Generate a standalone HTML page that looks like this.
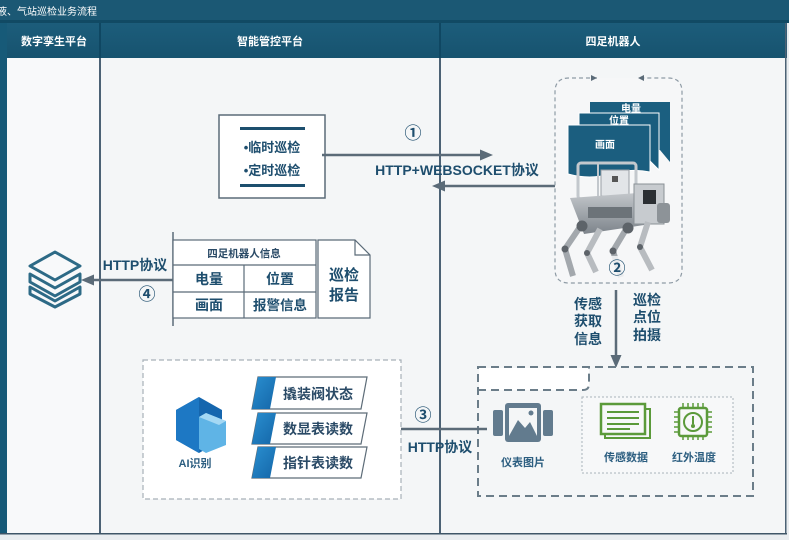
<!DOCTYPE html>
<html><head><meta charset="utf-8"><style>
html,body{margin:0;padding:0;background:#e9edf0;}
svg{display:block;}
text{font-family:"Liberation Sans","Noto Sans CJK SC",sans-serif;}
</style></head><body>
<svg width="789" height="540" viewBox="0 0 789 540" xmlns="http://www.w3.org/2000/svg">
<defs>
<linearGradient id="hdr" x1="0" y1="0" x2="0" y2="1"><stop offset="0" stop-color="#1c5d7b"/><stop offset="1" stop-color="#17536f"/></linearGradient>
<linearGradient id="blu" x1="0" y1="0" x2="1" y2="1"><stop offset="0" stop-color="#2a8fd0"/><stop offset="1" stop-color="#1466a8"/></linearGradient>
<linearGradient id="body" x1="0" y1="0" x2="0" y2="1"><stop offset="0" stop-color="#c4c8cc"/><stop offset="1" stop-color="#7d848b"/></linearGradient>
</defs>
<!-- base -->
<rect x="0" y="0" width="789" height="540" fill="#e9edf0"/>
<rect x="0" y="0" width="789" height="22" fill="#1b5874"/>
<rect x="0" y="20" width="789" height="3" fill="#114a64"/>
<text x="-3" y="15" font-size="10" fill="#ffffff">液、气站巡检业务流程</text>
<!-- header -->
<rect x="0" y="23" width="787" height="35" fill="url(#hdr)"/>
<rect x="0" y="23" width="7" height="511" fill="#175a78"/>
<rect x="99" y="23" width="2" height="35" fill="#0f4762"/>
<rect x="439" y="23" width="2" height="35" fill="#0f4762"/>
<text x="54" y="45" font-size="11" font-weight="bold" fill="#ffffff" text-anchor="middle">数字孪生平台</text>
<text x="270" y="45" font-size="11" font-weight="bold" fill="#ffffff" text-anchor="middle">智能管控平台</text>
<text x="613" y="45" font-size="11" font-weight="bold" fill="#ffffff" text-anchor="middle">四足机器人</text>
<!-- body -->
<rect x="7" y="58" width="779" height="476" fill="#f4f6f7"/>
<rect x="7" y="58" width="93" height="476" fill="#f8f9fa"/>
<rect x="99" y="58" width="2" height="476" fill="#4c6275"/>
<rect x="439" y="58" width="2" height="476" fill="#4c6275"/>
<rect x="785" y="23" width="1.5" height="511" fill="#4c6275"/>
<rect x="0" y="533" width="787" height="1.5" fill="#3f5668"/>

<!-- top middle box -->
<rect x="219" y="115" width="106" height="83" fill="#ffffff" stroke="#5b6b78" stroke-width="1.5"/>
<rect x="240" y="127" width="65" height="3" fill="#1d4f6e"/>
<rect x="240" y="184" width="65" height="3" fill="#1d4f6e"/>
<text x="272" y="152" font-size="13" font-weight="bold" fill="#1e4e6e" text-anchor="middle">•临时巡检</text>
<text x="272" y="175" font-size="13" font-weight="bold" fill="#1e4e6e" text-anchor="middle">•定时巡检</text>

<!-- arrow 1 -->
<line x1="322" y1="155" x2="484" y2="155" stroke="#5b6b78" stroke-width="2.5"/>
<polygon points="493,155 480,149.5 480,160.5" fill="#5b6b78"/>
<text x="413" y="139" font-size="17" font-weight="bold" fill="#1e4e6e" text-anchor="middle">①</text>
<text x="457" y="175" font-size="14" font-weight="bold" fill="#1e4e6e" text-anchor="middle">HTTP+WEBSOCKET协议</text>
<!-- return arrow -->
<line x1="556" y1="175" x2="556" y2="186" stroke="#5b6b78" stroke-width="2"/>
<line x1="556" y1="186" x2="441" y2="186" stroke="#5b6b78" stroke-width="2.5"/>
<polygon points="432,186 445,180.5 445,191.5" fill="#5b6b78"/>

<!-- robot dashed box -->
<path d="M597,78 L569,78 Q555,78 555,92 L555,269 Q555,283 569,283 L668,283 Q682,283 682,269 L682,92 Q682,78 668,78 L638,78" fill="#f6f7f8" stroke="#8e9ba5" stroke-width="1.2" stroke-dasharray="4 3"/>
<polygon points="597,78 591,75 591,81" fill="#5b6b78"/>
<polygon points="638,78 644,75 644,81" fill="#5b6b78"/>
<!-- stacked cards -->
<path d="M590,102 L670,102 L670,162 L660,150 L590,150 Z" fill="#1b5f80"/>
<path d="M579,113 L659,113 L659,170 L649,160 L579,160 Z" fill="#1a5d7e" stroke="#ffffff" stroke-width="1"/>
<path d="M568,125 L650,125 L650,172 Q630,168 610,174 Q590,180 568,174 Z" fill="#1b5e7f" stroke="#ffffff" stroke-width="1"/>
<text x="631" y="112" font-size="10" font-weight="bold" fill="#ffffff" text-anchor="middle">电量</text>
<text x="619" y="124" font-size="10" font-weight="bold" fill="#ffffff" text-anchor="middle">位置</text>
<text x="605" y="148" font-size="10" font-weight="bold" fill="#ffffff" text-anchor="middle">画面</text>
<!-- robot dog -->
<g>
<rect x="578" y="163" width="58" height="36" rx="3" fill="none" stroke="#c3c8cd" stroke-width="3"/>
<line x1="598" y1="163" x2="598" y2="199" stroke="#c3c8cd" stroke-width="2"/>
<rect x="601" y="170" width="28" height="26" fill="#e2e5e8" stroke="#9aa0a6"/>
<rect x="612" y="176" width="6" height="6" fill="#555"/>
<polygon points="570,198 652,192 664,222 584,234" fill="url(#body)"/>
<rect x="634" y="184" width="30" height="40" fill="#c7cbcf" stroke="#8a9096"/>
<rect x="643" y="190" width="13" height="14" fill="#2b2f33"/>
<rect x="657" y="203" width="13" height="20" rx="3" fill="#8d9398"/>
<rect x="588" y="207" width="44" height="11" fill="#6c7379"/>
<polyline points="582,224 565,249 573,276" fill="none" stroke="#a3a8ad" stroke-width="6" stroke-linejoin="round"/>
<polyline points="600,229 587,253 596,272" fill="none" stroke="#b8bcc0" stroke-width="6" stroke-linejoin="round"/>
<polyline points="628,226 613,251 621,277" fill="none" stroke="#a3a8ad" stroke-width="6" stroke-linejoin="round"/>
<polyline points="648,222 640,247 652,270" fill="none" stroke="#b8bcc0" stroke-width="6" stroke-linejoin="round"/>
<circle cx="582" cy="226" r="5.5" fill="#5d6369"/>
<circle cx="628" cy="228" r="5.5" fill="#5d6369"/>
<circle cx="565" cy="249" r="3.5" fill="#5d6369"/>
<circle cx="613" cy="251" r="3.5" fill="#5d6369"/>
<circle cx="587" cy="253" r="3" fill="#5d6369"/>
<circle cx="640" cy="247" r="3" fill="#5d6369"/>
</g>
<rect x="607" y="256" width="22" height="22" fill="#f6f7f8" opacity="0.85"/>
<text x="617" y="274" font-size="17" font-weight="bold" fill="#1e4e6e" text-anchor="middle">②</text>

<!-- arrow 2 down -->
<line x1="616" y1="290" x2="616" y2="359" stroke="#5b6b78" stroke-width="2.5"/>
<polygon points="616,368 610.5,355 621.5,355" fill="#5b6b78"/>
<text font-size="14" font-weight="bold" fill="#1e4e6e" text-anchor="middle"><tspan x="588" y="309">传感</tspan><tspan x="588" y="326">获取</tspan><tspan x="588" y="344">信息</tspan></text>
<text font-size="14" font-weight="bold" fill="#1e4e6e" text-anchor="middle"><tspan x="647" y="305">巡检</tspan><tspan x="647" y="322">点位</tspan><tspan x="647" y="340">拍摄</tspan></text>

<!-- bottom right dashed box -->
<rect x="478" y="367" width="275" height="129" fill="#f4f6f7" stroke="#6b7d89" stroke-width="2" stroke-dasharray="8 5"/>
<path d="M479,368 L589,368 L589,384 Q589,390 583,390 L479,390 Z" fill="#ffffff"/>
<path d="M478,390 L583,390 Q589,390 589,384 L589,367" fill="none" stroke="#6b7d89" stroke-width="2" stroke-dasharray="8 5"/>
<rect x="582" y="397" width="151" height="76" fill="#f7f8f9" stroke="#a9b3ba" stroke-width="1" stroke-dasharray="2 2"/>
<!-- picture icon -->
<rect x="493" y="410" width="10" height="26" rx="2" fill="#627b8e"/>
<rect x="543" y="410" width="10" height="26" rx="2" fill="#627b8e"/>
<rect x="505" y="403" width="36" height="39" rx="3" fill="#627b8e"/>
<rect x="509" y="408" width="28" height="28" fill="#f4f6f7"/>
<polygon points="509,436 518,420 525,428 530,422 537,436" fill="#627b8e"/>
<circle cx="531" cy="413" r="2.5" fill="#627b8e"/>
<text x="523" y="466" font-size="11" font-weight="bold" fill="#2c5e80" text-anchor="middle">仪表图片</text>
<!-- doc icon green -->
<rect x="605" y="409" width="45" height="29" fill="none" stroke="#5b9a3a" stroke-width="2"/>
<rect x="601" y="404" width="44" height="30" fill="#f7f8f9" stroke="#5b9a3a" stroke-width="2.5"/>
<line x1="607" y1="412" x2="639" y2="412" stroke="#5b9a3a" stroke-width="2"/>
<line x1="607" y1="418" x2="639" y2="418" stroke="#5b9a3a" stroke-width="2"/>
<line x1="607" y1="424" x2="639" y2="424" stroke="#5b9a3a" stroke-width="2"/>
<line x1="607" y1="429" x2="630" y2="429" stroke="#5b9a3a" stroke-width="2"/>
<text x="626" y="461" font-size="11" font-weight="bold" fill="#2c5e80" text-anchor="middle">传感数据</text>
<!-- chip icon -->
<g stroke="#5b9a3a" stroke-width="1.5">
<line x1="683" y1="403" x2="683" y2="440"/><line x1="688" y1="403" x2="688" y2="440"/><line x1="693" y1="403" x2="693" y2="440"/><line x1="698" y1="403" x2="698" y2="440"/><line x1="703" y1="403" x2="703" y2="440"/>
<line x1="674" y1="412" x2="712" y2="412"/><line x1="674" y1="417" x2="712" y2="417"/><line x1="674" y1="422" x2="712" y2="422"/><line x1="674" y1="427" x2="712" y2="427"/><line x1="674" y1="432" x2="712" y2="432"/>
</g>
<rect x="679" y="408" width="28" height="28" rx="2" fill="#f7f8f9" stroke="#5b9a3a" stroke-width="2.5"/>
<circle cx="693" cy="422" r="9" fill="none" stroke="#5b9a3a" stroke-width="2"/>
<line x1="693" y1="416" x2="693" y2="424" stroke="#5b9a3a" stroke-width="2"/>
<circle cx="693" cy="426" r="2" fill="#5b9a3a"/>
<text x="694" y="461" font-size="11" font-weight="bold" fill="#2c5e80" text-anchor="middle">红外温度</text>

<!-- arrow 3 -->
<line x1="487" y1="429" x2="396" y2="429" stroke="#5b6b78" stroke-width="2.5"/>
<polygon points="387,429 400,423.5 400,434.5" fill="#5b6b78"/>
<text x="423" y="421" font-size="17" font-weight="bold" fill="#1e4e6e" text-anchor="middle">③</text>
<text x="440" y="452" font-size="14" font-weight="bold" fill="#1e4e6e" text-anchor="middle">HTTP协议</text>

<!-- AI box -->
<rect x="143" y="360" width="258" height="139" fill="#ffffff" stroke="#a7b1b8" stroke-width="1.2" stroke-dasharray="5 3"/>
<polygon points="199,397 222,410 222,440 199,453 176,440 176,410" fill="#1566ae"/>
<polygon points="199,397 176,410 176,440 199,453" fill="#1d78c4"/>
<polygon points="206,413 226,421 226,445 206,453 199,449 199,417" fill="#5fb4e6"/>
<polygon points="199,417 206,413 226,421 219,425" fill="#a4d8f4"/>
<text x="195" y="467" font-size="11" font-weight="bold" fill="#2c5e80" text-anchor="middle">AI识别</text>
<g>
<polygon points="258,377 367,377 361,409 252,409" fill="#ffffff" stroke="#5d6c78" stroke-width="1.2"/>
<polygon points="258,377 276,377 270,409 252,409" fill="url(#blu)"/>
<text x="318" y="399" font-size="14" font-weight="bold" fill="#2a4a66" text-anchor="middle">撬装阀状态</text>
<polygon points="258,413 367,413 361,444 252,444" fill="#ffffff" stroke="#5d6c78" stroke-width="1.2"/>
<polygon points="258,413 276,413 270,444 252,444" fill="url(#blu)"/>
<text x="318" y="434" font-size="14" font-weight="bold" fill="#2a4a66" text-anchor="middle">数显表读数</text>
<polygon points="258,447 367,447 361,478 252,478" fill="#ffffff" stroke="#5d6c78" stroke-width="1.2"/>
<polygon points="258,447 276,447 270,478 252,478" fill="url(#blu)"/>
<text x="318" y="468" font-size="14" font-weight="bold" fill="#2a4a66" text-anchor="middle">指针表读数</text>
</g>

<!-- info table -->
<line x1="173" y1="232" x2="173" y2="326" stroke="#5b6b78" stroke-width="1.5"/>
<rect x="173" y="240" width="143" height="78" fill="#ffffff" stroke="#5b6b78" stroke-width="1.2"/>
<line x1="173" y1="265" x2="316" y2="265" stroke="#5b6b78" stroke-width="1.2"/>
<line x1="173" y1="292" x2="316" y2="292" stroke="#5b6b78" stroke-width="1.2"/>
<line x1="244" y1="265" x2="244" y2="318" stroke="#5b6b78" stroke-width="1.2"/>
<text x="244" y="257" font-size="10.5" font-weight="bold" fill="#2a4a66" text-anchor="middle">四足机器人信息</text>
<text x="209" y="284" font-size="14" font-weight="bold" fill="#1e4e6e" text-anchor="middle">电量</text>
<text x="280" y="284" font-size="14" font-weight="bold" fill="#1e4e6e" text-anchor="middle">位置</text>
<text x="209" y="310" font-size="14" font-weight="bold" fill="#1e4e6e" text-anchor="middle">画面</text>
<text x="280" y="310" font-size="13.5" font-weight="bold" fill="#1e4e6e" text-anchor="middle">报警信息</text>
<!-- report doc -->
<path d="M318,240 L355,240 L370,255 L370,318 L318,318 Z" fill="#ffffff" stroke="#5b6b78" stroke-width="1.2"/>
<path d="M355,240 L355,255 L370,255" fill="none" stroke="#5b6b78" stroke-width="1.2"/>
<text font-size="15" font-weight="bold" fill="#1e4e6e" text-anchor="middle"><tspan x="344" y="280">巡检</tspan><tspan x="344" y="300">报告</tspan></text>

<!-- arrow 4 -->
<line x1="173" y1="280" x2="90" y2="280" stroke="#5b6b78" stroke-width="2.5"/>
<polygon points="81,280 94,274.5 94,285.5" fill="#5b6b78"/>
<text x="135" y="270" font-size="14" font-weight="bold" fill="#1e4e6e" text-anchor="middle">HTTP协议</text>
<text x="147" y="300" font-size="17" font-weight="bold" fill="#1e4e6e" text-anchor="middle">④</text>

<!-- layers icon -->
<g fill="none" stroke="#2d6a86" stroke-width="3" stroke-linejoin="round">
<polygon points="55,252 80,266 55,280 30,266"/>
<polygon points="30,274 55,288 80,274 80,282 55,296 30,282"/>
<polygon points="30,287 55,301 80,287 80,294 55,307 30,294"/>
</g>
</svg>
</body></html>
